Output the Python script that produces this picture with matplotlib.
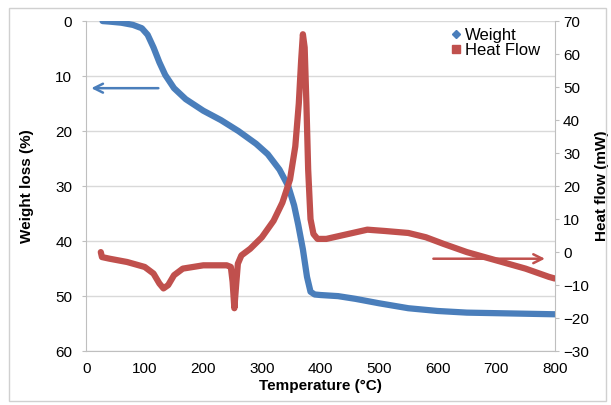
import matplotlib.pyplot as plt
from matplotlib.lines import Line2D

plt.rcParams['font.family'] = ['Liberation Sans', 'DejaVu Sans']

# weight loss curve (%), left axis
w_temp = [28, 40, 60, 80, 95, 105, 115, 125, 135, 150, 170, 200, 230, 260, 290, 310,
          330, 345, 355, 362, 370, 377, 383, 390, 400, 430, 460, 500, 550, 600, 650, 700, 750, 800]
w_loss = [0.0, 0.1, 0.3, 0.7, 1.3, 2.5, 4.8, 7.5, 9.8, 12.2, 14.2, 16.3, 18.0, 20.0, 22.3, 24.2,
          27.0, 30.0, 33.5, 37.0, 41.5, 46.5, 49.2, 49.7, 49.8, 50.0, 50.5, 51.3, 52.2, 52.7, 53.0, 53.1, 53.2, 53.3]

# heat flow (mW), right axis
h_temp = [25, 27, 40, 70, 100, 115, 125, 132, 140, 150, 165, 200, 240, 247, 250, 253, 256,
          259, 265, 280, 300, 320, 335, 348, 357, 363, 367, 370, 373, 376, 379, 383, 388,
          395, 410, 430, 455, 480, 510, 550, 580, 610, 650, 700, 750, 790, 800]
h_flow = [0.0, -1.5, -2.0, -3.0, -4.5, -6.5, -9.5, -11.0, -10.0, -7.0, -5.0, -4.0, -4.0, -4.5,
          -9.0, -17.0, -10.0, -3.5, -1.0, 1.0, 4.5, 9.5, 15.0, 22.0, 32.0, 45.0, 58.0, 66.0,
          62.0, 45.0, 25.0, 10.0, 5.5, 4.0, 4.0, 4.8, 5.8, 6.8, 6.4, 5.8, 4.5, 2.5, 0.0, -2.5, -5.0, -7.5, -8.0]

blue = '#4a7ebb'
red = '#c0504d'
grey = '#bfbfbf'

fig = plt.figure(figsize=(6.11, 4.05), dpi=100)
fig.patches.append(plt.Rectangle((0.014, 0.01), 0.978, 0.97, transform=fig.transFigure,
                                 fill=False, edgecolor='#d0d0d0', linewidth=1))
ax = fig.add_axes([0.141, 0.133, 0.767, 0.815])
ax2 = ax.twinx()

ax.plot(w_temp, w_loss, color=blue, linewidth=4.5, solid_capstyle='round', zorder=3)
ax2.plot(h_temp, h_flow, color=red, linewidth=4.5, solid_capstyle='round', zorder=3)

ax.set_xlim(0, 800)
ax.set_ylim(60, 0)
ax2.set_ylim(-30, 70)
ax.set_xticks(range(0, 801, 100))
ax.set_yticks(range(0, 61, 10))
ax2.set_yticks(range(-30, 71, 10))

ax.grid(axis='y', color='#d9d9d9', linewidth=1)
ax.set_axisbelow(True)
for a in (ax, ax2):
    a.spines['top'].set_visible(False)
    a.tick_params(labelsize=11, length=3, color=grey)
ax.spines['right'].set_visible(False)
ax2.spines['left'].set_visible(False)
ax2.spines['bottom'].set_visible(False)
ax.spines['left'].set_color(grey)
ax.spines['bottom'].set_color(grey)
ax2.spines['right'].set_color(grey)
ax.tick_params(axis='y', pad=7)
ax2.tick_params(axis='y', pad=3)
ax.tick_params(axis='x', length=0, pad=8)

ax.set_xlabel('Temperature (°C)', fontsize=11, fontweight='bold', labelpad=2)
ax.set_ylabel('Weight loss (%)', fontsize=11, fontweight='bold', labelpad=15)
ax2.set_ylabel('Heat flow (mW)', fontsize=11, fontweight='bold', labelpad=4)

# direction arrows
ax.annotate('', xy=(4, 12.2), xytext=(128, 12.2),
            arrowprops=dict(arrowstyle='->', color=blue, lw=1.8, mutation_scale=16))
ax2.annotate('', xy=(788, -2.0), xytext=(588, -2.0),
             arrowprops=dict(arrowstyle='->', color=red, lw=1.8, mutation_scale=16))

handles = [Line2D([], [], marker='D', color=blue, linestyle='None', markersize=4),
           Line2D([], [], marker='s', color=red, linestyle='None', markersize=6)]
ax2.legend(handles, ['Weight', 'Heat Flow'], loc='upper right', bbox_to_anchor=(1.0, 1.025),
           frameon=False, fontsize=12, handletextpad=0.0, labelspacing=0.0, handlelength=1.0)

fig.savefig('out.png', dpi=100)
